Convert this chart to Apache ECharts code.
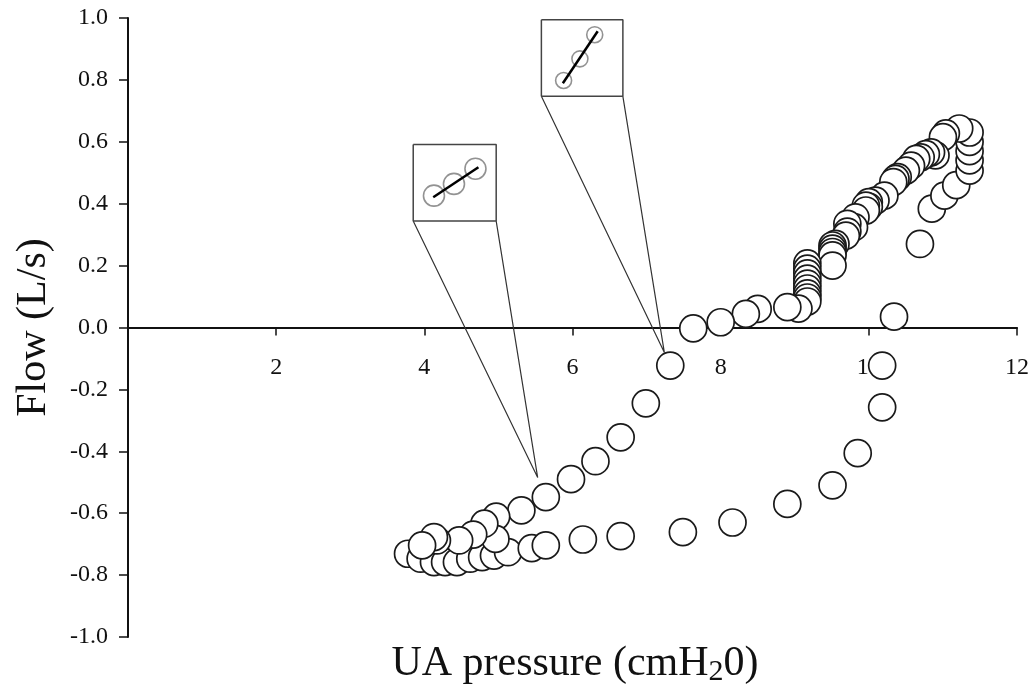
<!DOCTYPE html>
<html>
<head>
<meta charset="utf-8">
<script src="https://cdn.jsdelivr.net/npm/echarts@6/dist/echarts.min.js"></script>
<style>html,body{margin:0;padding:0;background:#fff;}#c{width:1032px;height:692px;}</style>
</head>
<body>
<div id="c"></div>
<script>
// UA pressure (cmH2O) values of each sample
const pressure = [
  3.78,3.95,4.13,4.28,4.44,4.62,4.78,4.94,5.13,5.45,5.64,
  6.14,6.65,7.49,8.16,8.90,9.51,9.85,10.18,10.18,10.34,10.69,
  10.85,11.02,11.18,11.36,11.36,11.36,11.36,11.36,11.22,11.04,11.00,
  10.90,10.84,10.77,10.70,10.64,10.57,10.50,10.39,10.36,10.33,10.21,10.09,
  10.00,10.00,9.96,9.96,9.82,9.80,9.71,9.71,9.69,
  9.55,9.51,9.51,9.51,9.51,9.51,
  9.17,9.17,9.17,9.17,9.17,9.17,9.17,9.17,9.17,
  9.05,8.90,8.50,8.34,8.00,7.63,
  7.32,6.99,6.65,6.31,5.98,5.64,5.31,4.97,4.96,4.81,4.66,4.47,4.17,4.13,3.97
];
// Flow (L/s) values of each sample
const flow = [
  -0.731,-0.747,-0.758,-0.758,-0.758,-0.747,-0.742,-0.737,-0.726,-0.713,-0.704,
  -0.685,-0.674,-0.661,-0.630,-0.570,-0.510,-0.406,-0.258,-0.123,0.035,0.270,
  0.384,0.426,0.460,0.507,0.540,0.570,0.600,0.630,0.643,0.627,0.615,
  0.556,0.566,0.560,0.550,0.545,0.523,0.507,0.486,0.480,0.470,0.426,0.410,
  0.405,0.390,0.394,0.378,0.356,0.324,0.335,0.310,0.297,
  0.270,0.265,0.255,0.244,0.233,0.200,
  0.207,0.190,0.175,0.158,0.142,0.126,0.110,0.097,0.084,
  0.061,0.066,0.060,0.044,0.017,-0.003,
  -0.123,-0.245,-0.355,-0.432,-0.490,-0.548,-0.591,-0.611,-0.683,-0.634,-0.669,-0.688,-0.688,-0.677,-0.704
];
// tick labels
const yTicks = [-1.0,-0.8,-0.6,-0.4,-0.2,0.0,0.2,0.4,0.6,0.8,1.0];
const xTicks = [2,4,6,8,10,12];

// Inset 1 (magnified samples) and its box / connector, in data units
const insetA_x = [4.13, 4.40, 4.69];
const insetA_y = [0.426, 0.464, 0.513];
const insetA_line = [[4.12,0.421],[4.73,0.518]];
const boxA = [[3.85,0.591],[4.97,0.591],[4.97,0.344],[3.85,0.344],[3.85,0.591]];
const connA = [[3.85,0.344],[5.53,-0.485],[4.97,0.344]];
// Inset 2
const insetB_x = [5.88, 6.10, 6.30];
const insetB_y = [0.798, 0.868, 0.946];
const insetB_line = [[5.87,0.789],[6.34,0.957]];
const boxB = [[5.58,0.994],[6.68,0.994],[6.68,0.747],[5.58,0.747],[5.58,0.994]];
const connB = [[5.58,0.747],[7.24,-0.081],[6.68,0.747]];

const FONT = '"Liberation Serif", "DejaVu Serif", serif';
const chart = echarts.init(document.getElementById('c'), null, {renderer: 'canvas'});
const mainData = pressure.map((p, i) => [p, flow[i]]);

const GRID_TOP = 18, GRID_BOTTOM = 55, H = 692;
const zeroY = GRID_TOP + (H - GRID_TOP - GRID_BOTTOM) / 2;

chart.setOption({
  animation: false,
  backgroundColor: '#fff',
  grid: [
    {left: 128, right: 15, top: GRID_TOP, bottom: GRID_BOTTOM, containLabel: false},
    {left: 128, right: 15, top: GRID_TOP, bottom: H - zeroY, containLabel: false}
  ],
  xAxis: [
    {type: 'value', gridIndex: 0, min: 0, max: 12, interval: 2, show: false},
    {
      type: 'value', gridIndex: 1, min: 0, max: 12, interval: 2, position: 'bottom',
      axisLine: {onZero: false, lineStyle: {color: '#111', width: 2}},
      axisTick: {show: true, inside: false, length: 8, lineStyle: {color: '#111', width: 1.5}},
      axisLabel: {
        showMinLabel: false, margin: 28, color: '#111', fontFamily: FONT, fontSize: 24,
        formatter: v => xTicks.indexOf(v) >= 0 ? String(v) : ''
      },
      splitLine: {show: false}
    }
  ],
  yAxis: [
    {
      type: 'value', gridIndex: 0, min: -1, max: 1, interval: 0.2,
      name: 'Flow (L/s)', nameLocation: 'middle', nameGap: 73,
      nameTextStyle: {fontFamily: FONT, fontSize: 42, color: '#111'},
      axisLine: {onZero: false, lineStyle: {color: '#111', width: 2}},
      axisTick: {show: true, length: 9, lineStyle: {color: '#111', width: 1.5}},
      axisLabel: {
        margin: 20, color: '#111', fontFamily: FONT, fontSize: 24,
        formatter: v => {
          const t = yTicks.find(k => Math.abs(k - v) < 1e-6);
          return t === undefined ? '' : t.toFixed(1);
        }
      },
      splitLine: {show: false}
    },
    {type: 'value', gridIndex: 1, min: -1, max: 0, show: false}
  ],
  graphic: [{
    type: 'text', x: 575, y: 664,
    style: {
      text: 'UA pressure (cmH{s|2}0)',
      fontFamily: FONT, fontSize: 42, fill: '#111',
      align: 'center', verticalAlign: 'middle', lineHeight: 46,
      rich: {s: {fontFamily: FONT, fontSize: 30, lineHeight: 32, verticalAlign: 'bottom', fill: '#111'}}
    }
  }],
  series: [
    {
      type: 'line', data: connA, symbol: 'none', silent: true, z: 1,
      lineStyle: {color: '#333', width: 1.2}
    },
    {
      type: 'line', data: connB, symbol: 'none', silent: true, z: 1,
      lineStyle: {color: '#333', width: 1.2}
    },
    {
      type: 'scatter', data: mainData, symbol: 'circle', symbolSize: 27, z: 3,
      itemStyle: {color: '#fff', borderColor: '#1a1a1a', borderWidth: 1.7, opacity: 1}
    },
    {
      type: 'line', data: boxA, symbol: 'none', silent: true, z: 4,
      lineStyle: {color: '#444', width: 1.5}
    },
    {
      type: 'line', data: boxB, symbol: 'none', silent: true, z: 4,
      lineStyle: {color: '#444', width: 1.5}
    },
    {
      type: 'scatter', data: insetA_x.map((x, i) => [x, insetA_y[i]]), symbolSize: 21, z: 5,
      itemStyle: {color: 'rgba(255,255,255,0)', borderColor: '#777', borderWidth: 1.6}
    },
    {
      type: 'scatter', data: insetB_x.map((x, i) => [x, insetB_y[i]]), symbolSize: 16, z: 5,
      itemStyle: {color: 'rgba(255,255,255,0)', borderColor: '#777', borderWidth: 1.6}
    },
    {
      type: 'line', data: insetA_line, symbol: 'none', silent: true, z: 6,
      lineStyle: {color: '#000', width: 2.5}
    },
    {
      type: 'line', data: insetB_line, symbol: 'none', silent: true, z: 6,
      lineStyle: {color: '#000', width: 2.5}
    }
  ]
});
</script>
</body>
</html>
